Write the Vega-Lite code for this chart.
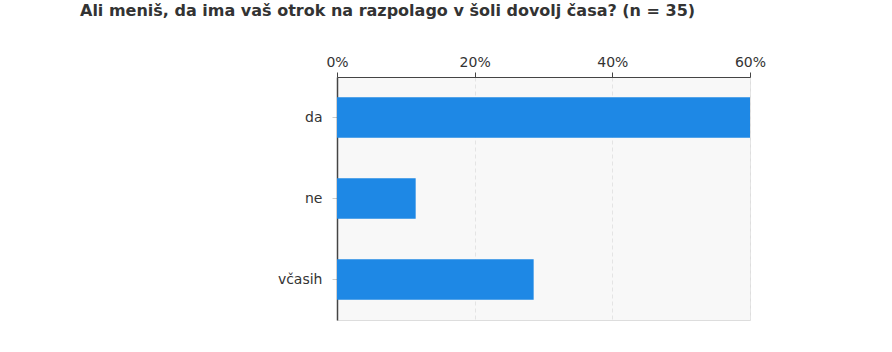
{
  "$schema": "https://vega.github.io/schema/vega-lite/v6.json",
  "autosize": {"type": "none"},
  "width": 413,
  "height": 243,
  "padding": {"left": 337, "top": 77, "right": 142, "bottom": 32},
  "background": "#ffffff",
  "title": {
    "text": "Ali meniš, da ima vaš otrok na razpolago v šoli dovolj časa? (n = 35)",
    "anchor": "start",
    "frame": "group",
    "dx": -257,
    "offset": 23,
    "baseline": "alphabetic",
    "font": "DejaVu Sans",
    "fontSize": 16,
    "fontWeight": "bold",
    "color": "#333333"
  },
  "data": {
    "values": [
      {"odgovor": "da", "delez": 0.6},
      {"odgovor": "ne", "delez": 0.1143},
      {"odgovor": "včasih", "delez": 0.2857}
    ]
  },
  "mark": {"type": "bar", "color": "#1e88e5"},
  "encoding": {
    "y": {
      "field": "odgovor",
      "type": "nominal",
      "sort": null,
      "scale": {"paddingInner": 0.5, "paddingOuter": 0.25},
      "axis": {
        "title": null,
        "domainColor": "#444444",
        "domainWidth": 1.5,
        "tickColor": "#cccccc",
        "tickSize": 5,
        "labelPadding": 10,
        "labelFont": "DejaVu Sans",
        "labelFontSize": 14,
        "labelColor": "#333333"
      }
    },
    "x": {
      "field": "delez",
      "type": "quantitative",
      "scale": {"domain": [0, 0.6]},
      "axis": {
        "orient": "top",
        "title": null,
        "format": ".0%",
        "values": [0, 0.2, 0.4, 0.6],
        "labelFlush": false,
        "domainColor": "#444444",
        "domainWidth": 1.2,
        "tickColor": "#444444",
        "tickSize": 5,
        "labelPadding": 3,
        "labelFont": "DejaVu Sans",
        "labelFontSize": 14,
        "labelColor": "#333333",
        "gridColor": "#e4e4e4",
        "gridDash": [4, 3]
      }
    }
  },
  "config": {
    "view": {"fill": "#f8f8f8", "stroke": "#dddddd"}
  }
}
